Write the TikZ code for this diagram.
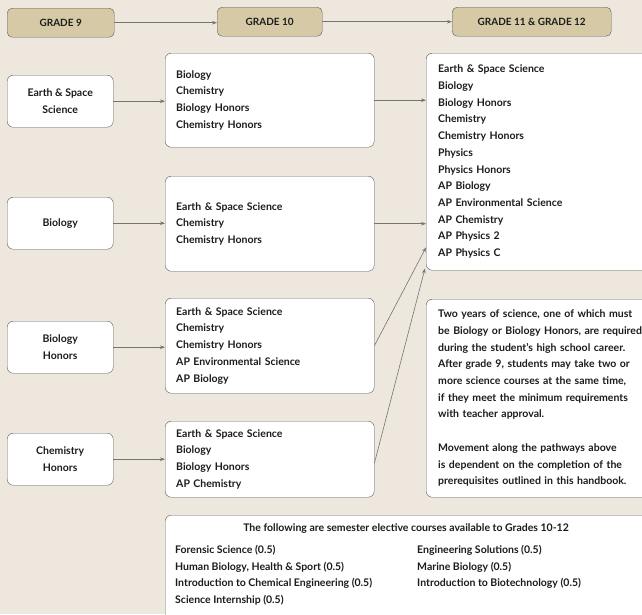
\documentclass[tikz,border=0pt]{standalone}
\usepackage{fontspec}
\setmainfont{Lato}
\usetikzlibrary{positioning,calc,arrows.meta}
\definecolor{paper}{HTML}{EEE7DD}
\definecolor{tan}{HTML}{D6C9A6}
\definecolor{edge}{HTML}{5C5C5C}
\definecolor{ink}{HTML}{1C1C1C}

\tikzset{
  grade/.style={draw=edge, fill=tan, rounded corners=5pt, anchor=north west,
    minimum height=29pt, inner sep=0pt, text=ink,
    font=\fontsize{10}{12}\selectfont\bfseries},
  course/.style={draw=edge, fill=white, rounded corners=6pt, anchor=north west,
    minimum width=106pt, minimum height=52pt, align=center, text=ink,
    font=\fontsize{10.5}{16.7}\selectfont\bfseries},
  list/.style={draw=edge, fill=white, rounded corners=6pt, anchor=north west,
    inner xsep=11pt, inner ysep=0pt, align=left, text=ink,
    font=\fontsize{10.5}{16.7}\selectfont\bfseries},
  items/.style={anchor=north west, inner sep=0pt, align=left, text=ink,
    font=\fontsize{10.5}{16.7}\selectfont\bfseries},
  link/.style={draw=edge!85, line width=0.6pt, -{Stealth[length=5pt,width=3.6pt]}}
}

\begin{document}
\begin{tikzpicture}[x=1pt,y=-1pt]
\useasboundingbox (0,0) rectangle (642,614);
\clip (0,0) rectangle (642,614);
\fill[paper] (0,0) rectangle (642,614);

% grade headers
\node[grade, minimum width=107pt] (g9) at (7,8) {GRADE 9};
\node[grade, minimum width=105pt] (g10) at (217,7) {GRADE 10};
\node[grade, minimum width=159pt] (g11) at (452,7) {GRADE 11 \& GRADE 12};
\draw[link] (g9) -- (g10.west |- g9);
\draw[link] (g10) -- (g11.west |- g10);

% grade 9 courses
\node[course] (ess) at (7,75) {Earth \& Space\\Science};
\node[course] (bio) at (7,197) {Biology};
\node[course] (bioh) at (7,321) {Biology\\Honors};
\node[course] (chemh) at (7,433) {Chemistry\\Honors};

% grade 10 options
\node[list, text width=187pt, minimum height=94pt] (ten1) at (165,53)
  {Biology\\Chemistry\\Biology Honors\\Chemistry Honors};
\node[list, text width=187pt, minimum height=95pt] (ten2) at (165,176)
  {Earth \& Space Science\\Chemistry\\Chemistry Honors};
\node[list, text width=187pt, minimum height=95pt] (ten3) at (165,298)
  {Earth \& Space Science\\Chemistry\\Chemistry Honors\\AP Environmental Science\\AP Biology};
\node[list, text width=187pt, minimum height=76pt] (ten4) at (165,421)
  {Earth \& Space Science\\Biology\\Biology Honors\\AP Chemistry};

% grade 11 and 12
\node[list, text width=240pt, minimum height=217pt, inner xsep=12pt] (up) at (426,53)
  {Earth \& Space Science\\Biology\\Biology Honors\\Chemistry\\Chemistry Honors\\Physics\\
   Physics Honors\\AP Biology\\AP Environmental Science\\AP Chemistry\\AP Physics 2\\AP Physics C};
\node[list, text width=240pt, minimum height=198pt, inner xsep=12pt] (note) at (426,299)
  {Two years of science, one of which must\\
   be Biology or Biology Honors, are required\\
   during the student’s high school career.\\
   After grade 9, students may take two or\\
   more science courses at the same time,\\
   if they meet the minimum requirements\\
   with teacher approval.\\[16.7pt]
   Movement along the pathways above\\
   is dependent on the completion of the\\
   prerequisites outlined in this handbook.};

\draw[link] (ess) -- (ten1.west |- ess);
\draw[link] (bio) -- (ten2.west |- bio);
\draw[link] (bioh) -- (ten3.west |- bioh);
\draw[link] (chemh) -- (ten4.west |- chemh);
\draw[link] (ten1.east) -- (ten1.east -| up.west);
\draw[link] (ten2.east) -- (ten2.east -| up.west);
\draw[link] (ten3.east) -- ($(up.south west)+(0,-23)$);
\draw[link] ($(ten4.east)+(0,4)$) -- ($(up.south west)+(-1,-2)$);

% electives
\node[draw=edge, fill=white, rounded corners=6pt, anchor=north west,
  minimum width=520pt, minimum height=130pt] (elect) at (165,515) {};
\node[items, anchor=center] (electhead) at (406,529)
  {The following are semester elective courses available to Grades 10-12};
\node[items] (electa) at (175,545)
  {Forensic Science (0.5)\\Human Biology, Health \& Sport (0.5)\\
   Introduction to Chemical Engineering (0.5)\\Science Internship (0.5)};
\node[items] (electb) at (417,545)
  {Engineering Solutions (0.5)\\Marine Biology (0.5)\\Introduction to Biotechnology (0.5)};
\end{tikzpicture}
\end{document}
